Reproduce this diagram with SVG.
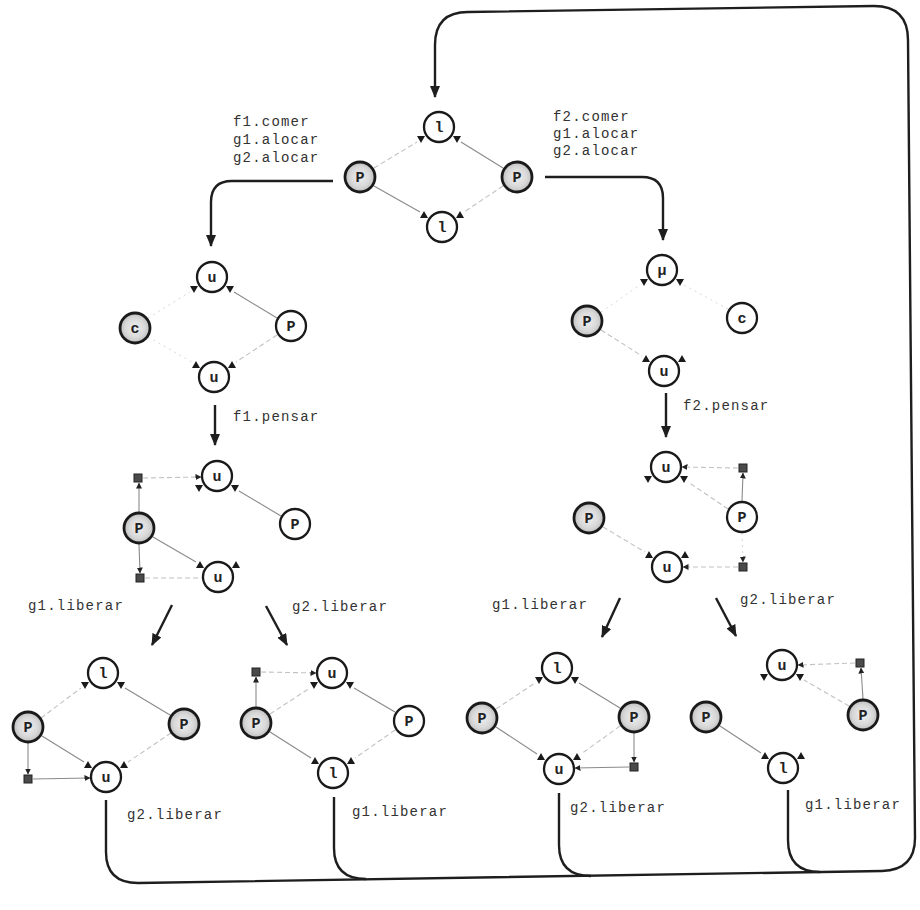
<svg xmlns="http://www.w3.org/2000/svg" xmlns:xlink="http://www.w3.org/1999/xlink" width="920" height="910" viewBox="0 0 920 910">
  <defs>
    <radialGradient id="shade" cx="50%" cy="50%" r="55%">
      <stop offset="0" stop-color="#f0f0f0"/>
      <stop offset="0.6" stop-color="#d8d8d8"/>
      <stop offset="1" stop-color="#b6b6b6"/>
    </radialGradient>
    <marker id="big" viewBox="0 0 12 10" refX="11" refY="5" markerWidth="12" markerHeight="10" markerUnits="userSpaceOnUse" orient="auto">
      <path d="M0,0 L12,5 L0,10 Z" fill="#1e1e1e"/>
    </marker>
    <marker id="small" viewBox="0 0 6 6" refX="5.5" refY="3" markerWidth="6" markerHeight="6" markerUnits="userSpaceOnUse" orient="auto">
      <path d="M0,0 L6,3 L0,6 Z" fill="#222"/>
    </marker>
    <!-- port triangles drawn beside the resource circles -->
    <path id="pd" d="M-4,-3 L4,-3 L0,4 Z" fill="#1a1a1a"/>
    <path id="pu" d="M-4,3 L4,3 L0,-4 Z" fill="#1a1a1a"/>
  </defs>
  <style>
    .n circle { fill: #ffffff; stroke: #1a1a1a; stroke-width: 2.3; }
    .n.sh circle { fill: url(#shade); stroke-width: 2.8; }
    .n text { font-family: "Liberation Mono", "DejaVu Sans Mono", monospace; font-weight: bold; font-size: 15px; text-anchor: middle; fill: #222; }
    .sq { fill: #4a4a4a; stroke: #222; stroke-width: 1; }
    .lbl { font-family: "Liberation Mono", "DejaVu Sans Mono", monospace; font-size: 14px; letter-spacing: 1.2px; fill: #333; }
    .e1 { stroke: #8a8a8a; stroke-width: 1.1; fill: none; }
    .e2 { stroke: #c2c2c2; stroke-width: 1.1; fill: none; stroke-dasharray: 5 3; }
    .e3 { stroke: #d8d8d8; stroke-width: 1; fill: none; stroke-dasharray: 2 4; }
    .ea { marker-end: url(#small); }
    .t { stroke: #1e1e1e; stroke-width: 2.4; fill: none; marker-end: url(#big); }
    .ret { stroke: #1e1e1e; stroke-width: 2.4; fill: none; }
  </style>

  <rect width="920" height="910" fill="#ffffff"/>

  <!-- ===================== connectors ===================== -->
  <g id="connectors">
    <!-- return loop from the four final states back to the initial state -->
    <path class="ret" d="M106,800 V852 Q106,883 138,883 L882,871 Q915,870 915,838 L908,40 Q908,6 874,6 L468,12 Q435,12 435,45 V97" marker-end="url(#big)"/>
    <path class="ret" d="M334,797 V848 Q334,879 366,879"/>
    <path class="ret" d="M559,793 V845 Q559,876 591,876"/>
    <path class="ret" d="M788,790 V840 Q788,872 820,872"/>

    <!-- transitions -->
    <path class="t" d="M333,181 H232 Q211,181 211,202 V246"/>
    <path class="t" d="M545,177 H642 Q663,177 663,198 V240"/>
    <path class="t" d="M215,405 V445"/>
    <path class="t" d="M666,393 V437"/>
    <path class="t" d="M172,605 L152,645"/>
    <path class="t" d="M266,606 L287,645"/>
    <path class="t" d="M620,598 L602,637"/>
    <path class="t" d="M716,598 L736,636"/>

    <!-- initial state -->
    <line class="e2" x1="374" y1="168" x2="417" y2="142"/>
    <line class="e1" x1="503" y1="168" x2="461" y2="142"/>
    <line class="e1" x1="374" y1="186" x2="420" y2="212"/>
    <line class="e2" x1="503" y1="186" x2="464" y2="212"/>

    <!-- f1 eating -->
    <line class="e1" x1="277" y1="318" x2="234" y2="292"/>
    <line class="e3" x1="148" y1="318" x2="190" y2="292"/>
    <line class="e3" x1="148" y1="337" x2="192" y2="362"/>
    <line class="e2" x1="277" y1="335" x2="236" y2="362"/>

    <!-- f2 eating -->
    <line class="e3" x1="728" y1="309" x2="684" y2="285"/>
    <line class="e3" x1="601" y1="312" x2="640" y2="285"/>
    <line class="e2" x1="601" y1="330" x2="642" y2="356"/>

    <!-- f1 thinking, forks still held -->
    <line class="e2 ea" x1="143" y1="478" x2="201" y2="477"/>
    <line class="e1 ea" x1="139" y1="512" x2="139" y2="483"/>
    <line class="e1 ea" x1="139" y1="544" x2="140" y2="573"/>
    <line class="e2" x1="145" y1="578" x2="202" y2="578"/>
    <line class="e1" x1="281" y1="516" x2="239" y2="491"/>
    <line class="e1" x1="153" y1="537" x2="196" y2="562"/>

    <!-- f2 thinking, forks still held -->
    <line class="e2 ea" x1="738" y1="468" x2="682" y2="467"/>
    <line class="e1 ea" x1="742" y1="501" x2="743" y2="473"/>
    <line class="e3 ea" x1="742" y1="533" x2="743" y2="562"/>
    <line class="e2 ea" x1="738" y1="567" x2="683" y2="567"/>
    <line class="e2" x1="728" y1="509" x2="688" y2="482"/>
    <line class="e2" x1="603" y1="527" x2="645" y2="552"/>

    <!-- after g1 release (left) -->
    <line class="e2" x1="41" y1="718" x2="81" y2="688"/>
    <line class="e1" x1="170" y1="715" x2="125" y2="688"/>
    <line class="e1" x1="42" y1="736" x2="84" y2="762"/>
    <line class="e2" x1="171" y1="733" x2="128" y2="762"/>
    <line class="e1 ea" x1="28" y1="743" x2="28" y2="774"/>
    <line class="e1 ea" x1="33" y1="779" x2="90" y2="778"/>

    <!-- after g2 release (left) -->
    <line class="e2 ea" x1="261" y1="672" x2="316" y2="673"/>
    <line class="e1 ea" x1="256" y1="707" x2="256" y2="677"/>
    <line class="e2" x1="270" y1="714" x2="310" y2="688"/>
    <line class="e1" x1="395" y1="712" x2="354" y2="688"/>
    <line class="e1" x1="270" y1="732" x2="311" y2="758"/>
    <line class="e2" x1="395" y1="730" x2="355" y2="758"/>

    <!-- after g1 release (right) -->
    <line class="e2" x1="496" y1="709" x2="535" y2="683"/>
    <line class="e1" x1="620" y1="708" x2="579" y2="683"/>
    <line class="e1" x1="496" y1="727" x2="537" y2="754"/>
    <line class="e2" x1="620" y1="726" x2="581" y2="754"/>
    <line class="e1 ea" x1="634" y1="733" x2="634" y2="762"/>
    <line class="e1 ea" x1="629" y1="767" x2="575" y2="768"/>

    <!-- after g2 release (right) -->
    <line class="e2 ea" x1="855" y1="663" x2="798" y2="665"/>
    <line class="e1 ea" x1="863" y1="699" x2="861" y2="668"/>
    <line class="e2" x1="849" y1="706" x2="804" y2="680"/>
    <line class="e1" x1="720" y1="726" x2="761" y2="753"/>
  </g>

  <!-- ===================== labels ===================== -->
  <g id="labels">
    <text class="lbl" x="233" y="126">f1.comer</text>
    <text class="lbl" x="233" y="144">g1.alocar</text>
    <text class="lbl" x="233" y="162">g2.alocar</text>
    <text class="lbl" x="553" y="121">f2.comer</text>
    <text class="lbl" x="553" y="138">g1.alocar</text>
    <text class="lbl" x="553" y="155">g2.alocar</text>
    <text class="lbl" x="233" y="421">f1.pensar</text>
    <text class="lbl" x="683" y="410">f2.pensar</text>
    <text class="lbl" x="28" y="610">g1.liberar</text>
    <text class="lbl" x="292" y="611">g2.liberar</text>
    <text class="lbl" x="492" y="609">g1.liberar</text>
    <text class="lbl" x="740" y="604">g2.liberar</text>
    <text class="lbl" x="127" y="819">g2.liberar</text>
    <text class="lbl" x="352" y="816">g1.liberar</text>
    <text class="lbl" x="570" y="812">g2.liberar</text>
    <text class="lbl" x="805" y="809">g1.liberar</text>
  </g>

  <!-- ===================== nodes ===================== -->
  <g id="nodes">
    <!-- initial state -->
    <g id="s0-l1" class="n"><circle cx="439" cy="127" r="15"/><text x="439" y="132">l</text><use href="#pd" x="421" y="139"/><use href="#pd" x="457" y="139"/></g>
    <g id="s0-p1" class="n sh"><circle cx="360" cy="177" r="15"/><text x="360" y="182">P</text></g>
    <g id="s0-p2" class="n sh"><circle cx="517" cy="177" r="15"/><text x="517" y="182">P</text></g>
    <g id="s0-l2" class="n"><circle cx="442" cy="227" r="15"/><text x="442" y="232">l</text><use href="#pu" x="424" y="215"/><use href="#pu" x="460" y="215"/></g>

    <!-- f1 eating -->
    <g id="s1-u1" class="n"><circle cx="212" cy="277" r="15"/><text x="212" y="282">u</text><use href="#pd" x="194" y="289"/><use href="#pd" x="230" y="289"/></g>
    <g id="s1-c" class="n sh"><circle cx="135" cy="328" r="15"/><text x="135" y="333">c</text></g>
    <g id="s1-p" class="n"><circle cx="291" cy="326" r="15"/><text x="291" y="331">P</text></g>
    <g id="s1-u2" class="n"><circle cx="214" cy="377" r="15"/><text x="214" y="382">u</text><use href="#pu" x="196" y="365"/><use href="#pu" x="232" y="365"/></g>

    <!-- f2 eating -->
    <g id="s2-u1" class="n"><circle cx="662" cy="270" r="15"/><text x="662" y="275">μ</text><use href="#pd" x="644" y="282"/><use href="#pd" x="680" y="282"/></g>
    <g id="s2-p" class="n sh"><circle cx="587" cy="321" r="15"/><text x="587" y="326">P</text></g>
    <g id="s2-c" class="n"><circle cx="742" cy="318" r="15"/><text x="742" y="323">c</text></g>
    <g id="s2-u2" class="n"><circle cx="664" cy="371" r="15"/><text x="664" y="376">u</text><use href="#pu" x="646" y="359"/><use href="#pu" x="682" y="359"/></g>

    <!-- f1 thinking -->
    <g id="s3-u1" class="n"><circle cx="217" cy="476" r="15"/><text x="217" y="481">u</text><use href="#pd" x="199" y="488"/><use href="#pd" x="235" y="488"/></g>
    <g id="s3-q1"><rect class="sq" x="134" y="474" width="8" height="8"/></g>
    <g id="s3-p1" class="n sh"><circle cx="139" cy="528" r="15"/><text x="139" y="533">P</text></g>
    <g id="s3-p2" class="n"><circle cx="295" cy="524" r="15"/><text x="295" y="529">P</text></g>
    <g id="s3-q2"><rect class="sq" x="136" y="574" width="8" height="8"/></g>
    <g id="s3-u2" class="n"><circle cx="218" cy="577" r="15"/><text x="218" y="582">u</text><use href="#pu" x="200" y="565"/><use href="#pu" x="236" y="565"/></g>

    <!-- f2 thinking -->
    <g id="s4-u1" class="n"><circle cx="666" cy="467" r="15"/><text x="666" y="472">u</text><use href="#pd" x="648" y="479"/><use href="#pd" x="684" y="479"/></g>
    <g id="s4-q1"><rect class="sq" x="739" y="464" width="8" height="8"/></g>
    <g id="s4-p1" class="n sh"><circle cx="589" cy="518" r="15"/><text x="589" y="523">P</text></g>
    <g id="s4-p2" class="n"><circle cx="742" cy="517" r="15"/><text x="742" y="522">P</text></g>
    <g id="s4-q2"><rect class="sq" x="739" y="563" width="8" height="8"/></g>
    <g id="s4-u2" class="n"><circle cx="667" cy="567" r="15"/><text x="667" y="572">u</text><use href="#pu" x="649" y="555"/><use href="#pu" x="685" y="555"/></g>

    <!-- after g1 release (left) -->
    <g id="s5-l" class="n"><circle cx="103" cy="673" r="15"/><text x="103" y="678">l</text><use href="#pd" x="85" y="685"/><use href="#pd" x="121" y="685"/></g>
    <g id="s5-p1" class="n sh"><circle cx="28" cy="727" r="15"/><text x="28" y="732">P</text></g>
    <g id="s5-p2" class="n sh"><circle cx="184" cy="724" r="15"/><text x="184" y="729">P</text></g>
    <g id="s5-q"><rect class="sq" x="24" y="775" width="8" height="8"/></g>
    <g id="s5-u" class="n"><circle cx="106" cy="777" r="15"/><text x="106" y="782">u</text><use href="#pu" x="88" y="765"/><use href="#pu" x="124" y="765"/></g>

    <!-- after g2 release (left) -->
    <g id="s6-q"><rect class="sq" x="252" y="668" width="8" height="8"/></g>
    <g id="s6-u" class="n"><circle cx="332" cy="673" r="15"/><text x="332" y="678">u</text><use href="#pd" x="314" y="685"/><use href="#pd" x="350" y="685"/></g>
    <g id="s6-p1" class="n sh"><circle cx="256" cy="723" r="15"/><text x="256" y="728">P</text></g>
    <g id="s6-p2" class="n"><circle cx="409" cy="721" r="15"/><text x="409" y="726">P</text></g>
    <g id="s6-l" class="n"><circle cx="333" cy="773" r="15"/><text x="333" y="778">l</text><use href="#pu" x="315" y="761"/><use href="#pu" x="351" y="761"/></g>

    <!-- after g1 release (right) -->
    <g id="s7-l" class="n"><circle cx="557" cy="668" r="15"/><text x="557" y="673">l</text><use href="#pd" x="539" y="680"/><use href="#pd" x="575" y="680"/></g>
    <g id="s7-p1" class="n sh"><circle cx="482" cy="718" r="15"/><text x="482" y="723">P</text></g>
    <g id="s7-p2" class="n sh"><circle cx="634" cy="717" r="15"/><text x="634" y="722">P</text></g>
    <g id="s7-q"><rect class="sq" x="630" y="763" width="8" height="8"/></g>
    <g id="s7-u" class="n"><circle cx="559" cy="769" r="15"/><text x="559" y="774">u</text><use href="#pu" x="541" y="757"/><use href="#pu" x="577" y="757"/></g>

    <!-- after g2 release (right) -->
    <g id="s8-u" class="n"><circle cx="782" cy="665" r="15"/><text x="782" y="670">u</text><use href="#pd" x="764" y="677"/><use href="#pd" x="800" y="677"/></g>
    <g id="s8-q"><rect class="sq" x="856" y="659" width="8" height="8"/></g>
    <g id="s8-p1" class="n sh"><circle cx="706" cy="717" r="15"/><text x="706" y="722">P</text></g>
    <g id="s8-p2" class="n sh"><circle cx="863" cy="715" r="15"/><text x="863" y="720">P</text></g>
    <g id="s8-l" class="n"><circle cx="783" cy="768" r="15"/><text x="783" y="773">l</text><use href="#pu" x="765" y="756"/><use href="#pu" x="801" y="756"/></g>
  </g>
</svg>
